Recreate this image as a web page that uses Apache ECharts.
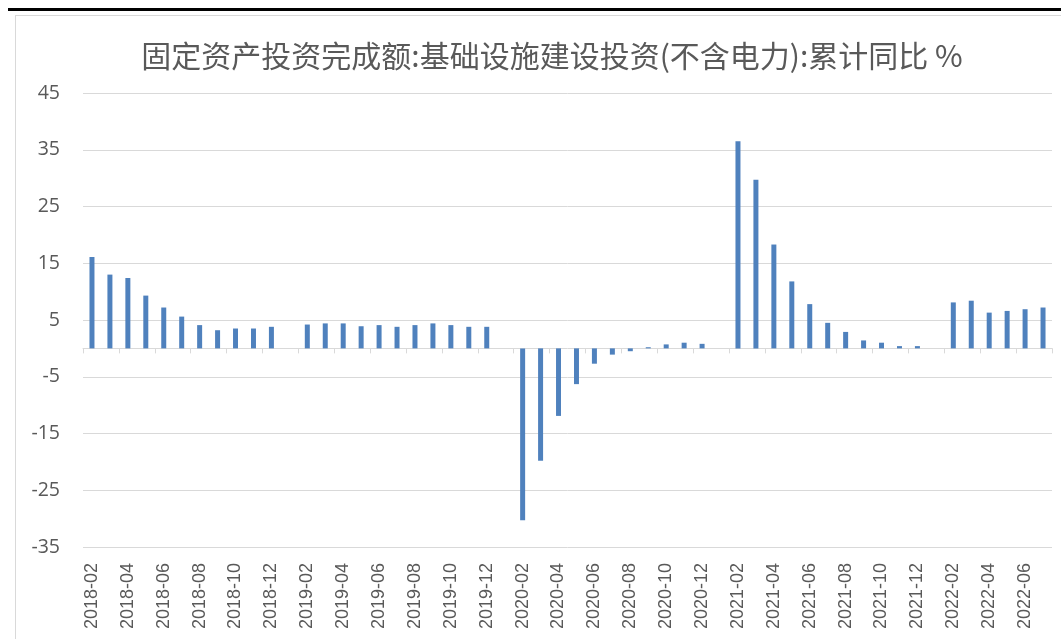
<!DOCTYPE html>
<html>
<head>
<meta charset="utf-8">
<script src="https://cdn.jsdelivr.net/npm/echarts@6/dist/echarts.min.js"></script>
<style>
html,body{margin:0;padding:0;background:#fff;}
#chart{width:1061px;height:639px;}
</style>
</head>
<body>
<div id="chart"></div>
<script>
var titleText = '固定资产投资完成额:基础设施建设投资(不含电力):累计同比 %';
var categories = [
  '2018-02','2018-03','2018-04','2018-05','2018-06','2018-07','2018-08','2018-09','2018-10','2018-11','2018-12',
  '2019-01','2019-02','2019-03','2019-04','2019-05','2019-06','2019-07','2019-08','2019-09','2019-10','2019-11','2019-12',
  '2020-01','2020-02','2020-03','2020-04','2020-05','2020-06','2020-07','2020-08','2020-09','2020-10','2020-11','2020-12',
  '2021-01','2021-02','2021-03','2021-04','2021-05','2021-06','2021-07','2021-08','2021-09','2021-10','2021-11','2021-12',
  '2022-01','2022-02','2022-03','2022-04','2022-05','2022-06','2022-07'
];
var values2018 = [16.1, 13.0, 12.4, 9.3, 7.2, 5.6, 4.1, 3.2, 3.5, 3.5, 3.8];
var values2019 = [null, 4.2, 4.4, 4.4, 3.9, 4.1, 3.8, 4.1, 4.4, 4.1, 3.8, 3.8];
var values2020 = [null, -30.3, -19.8, -11.9, -6.3, -2.7, -1.1, -0.5, 0.2, 0.7, 1.0, 0.8];
var values2021 = [null, 36.5, 29.7, 18.3, 11.8, 7.8, 4.5, 2.9, 1.4, 1.0, 0.4, 0.4];
var values2022 = [null, 8.1, 8.4, 6.3, 6.6, 6.9, 7.2];
var values = [].concat(values2018, values2019, values2020, values2021, values2022);
var yMin = -35, yMax = 45, yStep = 10;

var chart = echarts.init(document.getElementById('chart'));
chart.setOption({
  animation: false,
  backgroundColor: '#ffffff',
  title: {
    text: titleText,
    left: 547,
    top: 36,
    textAlign: 'center',
    textStyle: {
      fontFamily: '"Noto Sans CJK SC", sans-serif',
      fontSize: 30,
      fontWeight: 'normal',
      color: '#595959'
    }
  },
  graphic: [
    {type: 'rect', shape: {x: 8, y: 8, width: 1061, height: 3}, style: {fill: '#000000'}, silent: true},
    {type: 'rect', shape: {x: 16, y: 15, width: 1061, height: 1}, style: {fill: '#d9d9d9'}, silent: true},
    {type: 'rect', shape: {x: 15, y: 15, width: 1, height: 640}, style: {fill: '#d9d9d9'}, silent: true}
  ],
  grid: {left: 83, right: 9, top: 93, bottom: 92, containLabel: false},
  xAxis: [
    {
      type: 'category',
      data: categories,
      position: 'bottom',
      boundaryGap: true,
      axisLine: {show: true, onZero: true, lineStyle: {color: '#d9d9d9', width: 1}},
      axisTick: {show: true, interval: 1, length: 5, lineStyle: {color: '#d9d9d9'}},
      axisLabel: {show: false},
      splitLine: {show: false}
    },
    {
      type: 'category',
      data: categories,
      position: 'bottom',
      boundaryGap: true,
      axisLine: {show: false, onZero: false},
      axisTick: {show: false},
      axisLabel: {
        show: true,
        interval: 1,
        rotate: 90,
        margin: 16,
        fontFamily: '"Liberation Sans", Arial, sans-serif',
        fontSize: 18,
        color: '#595959'
      },
      splitLine: {show: false}
    }
  ],
  yAxis: {
    type: 'value',
    min: yMin,
    max: yMax,
    interval: yStep,
    axisLine: {show: false},
    axisTick: {show: false},
    axisLabel: {
      margin: 23,
      fontFamily: '"Open Sans", sans-serif',
      fontSize: 19.5,
      color: '#595959'
    },
    splitLine: {show: true, lineStyle: {color: '#d9d9d9', width: 1}}
  },
  series: [{
    type: 'bar',
    xAxisIndex: 0,
    data: values,
    barWidth: 5,
    itemStyle: {color: '#4F81BD'}
  }]
});
</script>
</body>
</html>
